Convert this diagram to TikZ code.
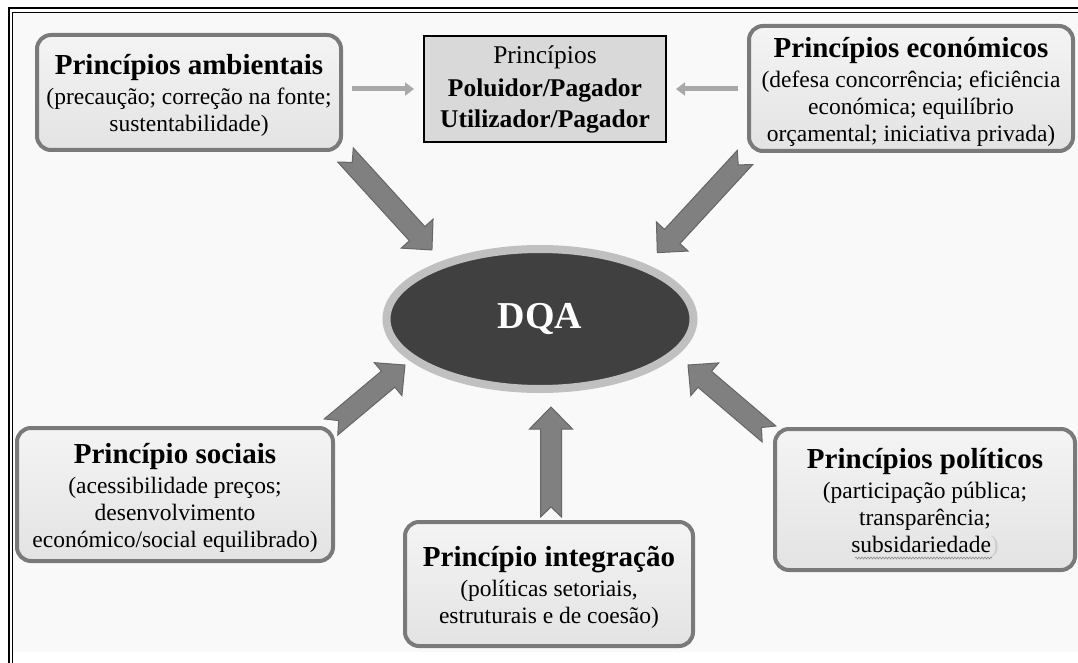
\documentclass[tikz,border=0pt]{standalone}
\usepackage{fontspec}
\setmainfont{Liberation Serif}
\usetikzlibrary{shapes.geometric,arrows.meta,decorations.pathmorphing}

\definecolor{pagebg}{HTML}{F9F9F9}
\definecolor{boxline}{HTML}{7A7A7A}
\definecolor{boxtop}{HTML}{F4F4F4}
\definecolor{boxbot}{HTML}{E3E3E3}
\definecolor{ppfill}{HTML}{D9D9D9}
\definecolor{ringcol}{HTML}{C0C0C0}
\definecolor{corecol}{HTML}{404040}
\definecolor{thincol}{HTML}{A8A8A8}
\definecolor{blockfill}{HTML}{808080}
\definecolor{blockline}{HTML}{666666}

\newcommand{\ttl}{\fontsize{29}{32}\selectfont\bfseries}
\newcommand{\subfnt}{\fontsize{23.5}{27}\selectfont}

\newdimen\bax \newdimen\bay \newdimen\bbx \newdimen\bby
% notched block arrow from coordinate #1 (tail) to coordinate #2 (tip)
\newcommand{\blockarrow}[2]{%
  \pgfextractx{\bax}{\pgfpointanchor{#1}{center}}%
  \pgfextracty{\bay}{\pgfpointanchor{#1}{center}}%
  \pgfextractx{\bbx}{\pgfpointanchor{#2}{center}}%
  \pgfextracty{\bby}{\pgfpointanchor{#2}{center}}%
  \pgfmathsetmacro\baang{atan2(\bby-\bay,\bbx-\bax)}%
  \pgfmathsetmacro\balen{veclen(\bbx-\bax,\bby-\bay)}%
  \begin{scope}[shift={(#1)}, rotate=\baang]
    \draw[blockarr] (0,-10.5) -- ({\balen-22},-10.5) -- ({\balen-22},-21.5)
      -- (\balen,0) -- ({\balen-22},21.5) -- ({\balen-22},10.5) -- (0,10.5)
      -- (10,0) -- cycle;
  \end{scope}}

\tikzset{
  princbox/.style={draw=boxline, line width=4pt, rounded corners=14pt,
    top color=boxtop, bottom color=boxbot, inner sep=0pt},
  princtext/.style={align=center, inner sep=0pt, font=\subfnt, yshift=-3pt},
  ppbox/.style={draw=black, line width=2pt, fill=ppfill, align=center,
    inner sep=0pt, font=\fontsize{25.5}{31}\selectfont},
  dqa/.style={ellipse, draw=ringcol, line width=8pt, fill=corecol,
    inner sep=0pt, text=white, font=\fontsize{38}{40}\selectfont\bfseries},
  thinarr/.style={draw=thincol, line width=5pt,
    -{Triangle[width=13pt,length=9pt]}},
  blockarr/.style={draw=blockline, line width=1pt, fill=blockfill,
    line join=miter},
  spellmark/.style={draw=black!45, line width=0.6pt,
    decorate, decoration={snake, amplitude=1pt, segment length=3pt}},
}

\begin{document}
\begin{tikzpicture}[x=1pt,y=-1pt]
\useasboundingbox (0,0) rectangle (1078,663);

% page background and double frame
\fill[pagebg] (12,12) rectangle (1078,652);
\draw[line width=2pt] (8.5,663) -- (8.5,8.5) -- (1078,8.5);
\draw[line width=0.8pt] (12.5,663) -- (12.5,12.5) -- (1078,12.5);

% principle boxes
\node[princbox, minimum width=304pt, minimum height=115pt] (amb) at (189,92.5) {};
\node[princtext] (ambtxt) at (amb.center)
  {{\ttl Princípios ambientais}\\[3pt]
   (precaução; correção na fonte;\\ sustentabilidade)};

\node[princbox, minimum width=324pt, minimum height=125pt] (eco) at (911,88.5) {};
\node[princtext] (ecotxt) at (eco.center)
  {{\ttl Princípios económicos}\\[3pt]
   (defesa concorrência; eficiência\\ económica; equilíbrio\\
   orçamental; iniciativa privada)};

\node[princbox, minimum width=316pt, minimum height=133pt] (soc) at (175,494.5) {};
\node[princtext] (soctxt) at (soc.center)
  {{\ttl Princípio sociais}\\[3pt]
   (acessibilidade preços;\\ desenvolvimento\\
   económico/social equilibrado)};

\node[princbox, minimum width=288pt, minimum height=124pt] (int) at (549,584) {};
\node[princtext] (inttxt) at (int.center)
  {{\ttl Princípio integração}\\[3pt]
   (políticas setoriais,\\ estruturais e de coesão)};

\node[princbox, minimum width=300pt, minimum height=141pt] (pol) at (925,499.5) {};
\node[princtext] (poltxt) at (pol.center)
  {{\ttl Princípios políticos}\\[3pt]
   (participação pública;\\ transparência;\\
   subsidariedade{\color{black!20})}};
% spell-check wave under the last word
\coordinate (wavea) at (855,558);
\coordinate (waveb) at (992,558);
\draw[spellmark] (wavea) -- (waveb);

% polluter / user pays box
\node[ppbox, minimum width=242pt, minimum height=106pt] (pp) at (545,89)
  {Princípios\\[2pt] \textbf{Poluidor/Pagador}\\ \textbf{Utilizador/Pagador}};

% central node
\node[dqa, minimum width=307pt, minimum height=140pt] (dqa) at (540,319) {DQA};

% thin arrows into the central box
\draw[thinarr, shorten <=9pt, shorten >=9pt] (amb.east |- pp.west) -- (pp.west);
\draw[thinarr, shorten <=9pt, shorten >=9pt] (eco.west |- pp.east) -- (pp.east);

% block arrow end points
\coordinate (a1t) at (345.5,155);  \coordinate (a1h) at (432,250);
\coordinate (a2t) at (745,157.5);  \coordinate (a2h) at (657,253);
\coordinate (a3t) at (331,427);    \coordinate (a3h) at (405,365);
\coordinate (a4t) at (551,517);    \coordinate (a4h) at (551,407);
\coordinate (a5t) at (769,434);    \coordinate (a5h) at (688,365);

\blockarrow{a1t}{a1h}
\blockarrow{a2t}{a2h}
\blockarrow{a3t}{a3h}
\blockarrow{a4t}{a4h}
\blockarrow{a5t}{a5h}
\end{tikzpicture}
\end{document}
